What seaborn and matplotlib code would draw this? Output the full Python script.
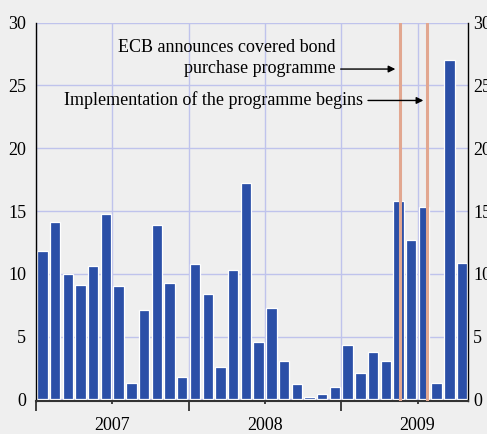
import numpy as np
import pandas as pd
import matplotlib
matplotlib.use("Agg")
import matplotlib.pyplot as plt
import seaborn as sns

# monthly issuance, Jan 2007 - Oct 2009
months = pd.period_range("2007-01", periods=34, freq="M").strftime("%Y-%m")
values = [11.8, 14.1, 10.0, 9.1, 10.6, 14.8, 9.0, 1.3, 7.1, 13.9, 9.3, 1.8,
          10.8, 8.4, 2.6, 10.3, 17.2, 4.6, 7.3, 3.1, 1.2, 0.2, 0.4, 1.0,
          4.3, 2.1, 3.8, 3.1, 15.8, 12.7, 15.3, 1.3, 27.0, 10.9]
years = ["2007", "2008", "2009"]
y_ticks = [0, 5, 10, 15, 20, 25, 30]
# event markers (in bar-slot units)
announce_pos = 28.1
implement_pos = 30.2
announce_text = "ECB announces covered bond\npurchase programme"
implement_text = "Implementation of the programme begins"

df = pd.DataFrame({"month": months, "value": values})

sns.set_style("white")
plt.rcParams["font.family"] = ["Liberation Serif", "DejaVu Serif"]
plt.rcParams["font.size"] = 13
plt.rcParams["text.color"] = "black"
plt.rcParams["xtick.color"] = "black"
plt.rcParams["ytick.color"] = "black"

bg = "#efefef"
grid_c = "#bfc3ec"
bar_c = "#2b4fa7"
line_c = "#e2a790"

fig = plt.figure(figsize=(4.87, 4.34), dpi=100, facecolor=bg)
ax = fig.add_axes([0.0739, 0.0749, 0.962 - 0.0739, 0.948 - 0.0749])
ax.set_facecolor(bg)

sns.barplot(data=df, x="month", y="value", color=bar_c, saturation=1,
            width=0.82, edgecolor="white", linewidth=0.9, ax=ax, zorder=2)

ax.set_xlim(-0.5, len(values) - 0.5)
ax.set_ylim(-0.16, 30)
ax.set_xlabel("")
ax.set_ylabel("")

# x axis: long ticks at year edges, short ticks with year labels mid-year
n_years = len(years)
ax.set_xticks([12 * i - 0.5 for i in range(n_years)])
ax.set_xticklabels([])
ax.set_xticks([12 * i + 5.5 for i in range(n_years)], minor=True)
ax.set_xticklabels(years, minor=True)
ax.tick_params(axis="x", which="major", length=7.5, width=1.2, color="#222222",
               direction="out", bottom=True)
ax.tick_params(axis="x", which="minor", length=2.5, width=1.2, color="#222222",
               direction="out", bottom=True, pad=8.5, labelsize=13)

ax.set_yticks(y_ticks)
ax.tick_params(axis="y", length=0, left=False, right=False, labelsize=13, pad=7)

# right-hand labels with their own padding
ax_r = ax.twinx()
ax_r.set_ylim(ax.get_ylim())
ax_r.set_yticks(y_ticks)
ax_r.tick_params(axis="y", length=0, labelsize=13, pad=3.2)
for s in ax_r.spines.values():
    s.set_visible(False)

ax.grid(axis="y", color=grid_c, linewidth=1, zorder=0)
ax.grid(axis="x", which="both", color=grid_c, linewidth=1, zorder=0)
ax.set_axisbelow(True)

for side in ["left", "right"]:
    ax.spines[side].set_color("black")
    ax.spines[side].set_linewidth(1)
ax.spines["bottom"].set_color("#333333")
ax.spines["bottom"].set_linewidth(1.5)
ax.spines["top"].set_visible(False)

for pos in [announce_pos, implement_pos]:
    ax.axvline(pos, color=line_c, linewidth=2.2, zorder=3)

arrow = dict(arrowstyle="-|>", color="black", lw=1, mutation_scale=10,
             shrinkA=0, shrinkB=0)
ax.text(23.07, 27.2, announce_text, ha="right", va="center",
        multialignment="right", linespacing=1.3)
ax.annotate("", xy=(announce_pos - 0.35, 26.3), xytext=(23.45, 26.3),
            arrowprops=arrow)
ax.text(25.19, 23.8, implement_text, ha="right", va="center")
ax.annotate("", xy=(implement_pos - 0.25, 23.8), xytext=(25.6, 23.8),
            arrowprops=arrow)

fig.savefig("out.png", dpi=100, facecolor=bg)
